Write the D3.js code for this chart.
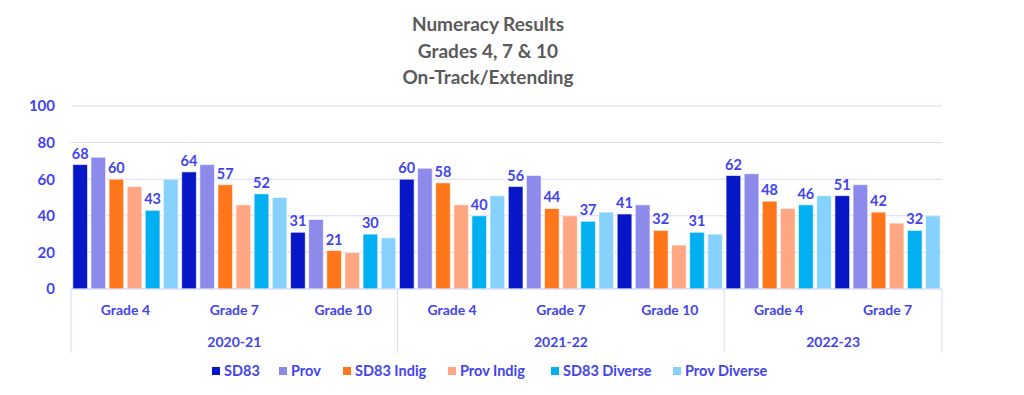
<!DOCTYPE html>
<html>
<head>
<meta charset="utf-8">
<script src="https://cdn.jsdelivr.net/npm/d3@7"></script>
<style>
  body { margin: 0; background: #fff; }
  text { font-family: Lato, "Open Sans", sans-serif; font-weight: bold; }
</style>
</head>
<body>
<div id="chart"></div>
<script>
// Chart size.
var width = 1024;
var height = 395;

// Data.
var years = ["2020-21", "2021-22", "2022-23"];
var grades = [["Grade 4", "Grade 7", "Grade 10"], ["Grade 4", "Grade 7", "Grade 10"], ["Grade 4", "Grade 7"]];
var series = ["SD83", "Prov", "SD83 Indig", "Prov Indig", "SD83 Diverse", "Prov Diverse"];
var sd83        = [68, 64, 31, 60, 56, 41, 62, 51];
var prov        = [72, 68, 38, 66, 62, 46, 63, 57];
var sd83Indig   = [60, 57, 21, 58, 44, 32, 48, 42];
var provIndig   = [56, 46, 20, 46, 40, 24, 44, 36];
var sd83Diverse = [43, 52, 30, 40, 37, 31, 46, 32];
var provDiverse = [60, 50, 28, 51, 42, 30, 51, 40];
var yTicks = [0, 20, 40, 60, 80, 100];
var titleLines = ["Numeracy Results", "Grades 4, 7 & 10", "On-Track/Extending"];

// Colours and which series get value labels.
var colors = ["#0716c6", "#8c8bec", "#ff761b", "#ffa783", "#00b0f0", "#87d2fc"];
var labelled = [true, false, true, false, true, false];
var values = [sd83, prov, sd83Indig, provIndig, sd83Diverse, provDiverse];

var textBlue = "#4343ee";
var gridColor = "#d9d9f7";

// Flat list of categories: one per grade within a year.
var cats = [];
years.forEach(function(y, i) {
  grades[i].forEach(function(g) { cats.push({ year: y, grade: g, key: y + "|" + g }); });
});

var margin = { left: 71, right: 82, top: 106, bottom: 106 };
var plotW = width - margin.left - margin.right;
var plotH = height - margin.top - margin.bottom;

var svg = d3.select("#chart").append("svg")
    .attr("width", width)
    .attr("height", height);

var g = svg.append("g")
    .attr("transform", "translate(" + margin.left + "," + margin.top + ")");

var x0 = d3.scaleBand()
    .domain(cats.map(function(d) { return d.key; }))
    .range([0, plotW])
    .padding(0);

var x1 = d3.scaleBand()
    .domain(d3.range(series.length))
    .range([0, x0.bandwidth()])
    .paddingInner(0.19)
    .paddingOuter(0.1);

var y = d3.scaleLinear()
    .domain([0, 100])
    .range([plotH, 0]);

// Title
svg.append("g").selectAll("text")
    .data(titleLines)
    .join("text")
    .attr("x", 488)
    .attr("y", function(d, i) { return 31 + i * 26.5; })
    .attr("text-anchor", "middle")
    .attr("font-size", 19)
    .attr("fill", "#5a5a5a")
    .text(function(d) { return d; });

// Gridlines
g.append("g").selectAll("line")
    .data(yTicks)
    .join("line")
    .attr("x1", 0)
    .attr("x2", plotW)
    .attr("y1", function(d) { return y(d); })
    .attr("y2", function(d) { return y(d); })
    .attr("stroke", gridColor)
    .attr("stroke-width", 1);

// Y axis labels
var yAxis = g.append("g")
    .call(d3.axisLeft(y).tickValues(yTicks).tickSize(0).tickPadding(16));
yAxis.select(".domain").remove();
yAxis.selectAll("text")
    .attr("font-size", 15)
    .attr("font-family", "Lato, sans-serif")
    .attr("fill", textBlue);

// Bars
var groups = g.append("g").selectAll("g")
    .data(cats)
    .join("g")
    .attr("transform", function(d) { return "translate(" + x0(d.key) + ",0)"; });

groups.selectAll("rect")
    .data(function(d, ci) { return series.map(function(s, si) { return { si: si, v: values[si][ci] }; }); })
    .join("rect")
    .attr("x", function(d) { return x1(d.si); })
    .attr("width", x1.bandwidth())
    .attr("y", function(d) { return y(d.v); })
    .attr("height", function(d) { return plotH - y(d.v); })
    .attr("fill", function(d) { return colors[d.si]; })
    .attr("stroke", "rgba(255,255,255,0.6)")
    .attr("stroke-width", 1);

// Value labels
groups.selectAll("text.val")
    .data(function(d, ci) {
      return series.map(function(s, si) { return { si: si, v: values[si][ci] }; })
          .filter(function(d) { return labelled[d.si]; });
    })
    .join("text")
    .attr("class", "val")
    .attr("x", function(d) { return x1(d.si) + x1.bandwidth() / 2; })
    .attr("y", function(d) { return y(d.v) - 6; })
    .attr("text-anchor", "middle")
    .attr("font-size", 14.5)
    .attr("fill", textBlue)
    .text(function(d) { return d.v; });

// Baseline
g.append("line")
    .attr("x1", 0).attr("x2", plotW)
    .attr("y1", plotH).attr("y2", plotH)
    .attr("stroke", gridColor);

// Category axis: grade labels
g.append("g").selectAll("text")
    .data(cats)
    .join("text")
    .attr("x", function(d) { return x0(d.key) + x0.bandwidth() / 2; })
    .attr("y", plotH + 26)
    .attr("text-anchor", "middle")
    .attr("font-size", 14)
    .attr("fill", textBlue)
    .text(function(d) { return d.grade; });

// Year labels and separators
var yearSpans = years.map(function(yr, i) {
  var ks = cats.filter(function(c) { return c.year === yr; });
  var start = x0(ks[0].key);
  var end = x0(ks[ks.length - 1].key) + x0.bandwidth();
  return { year: yr, start: start, end: end };
});

g.append("g").selectAll("text")
    .data(yearSpans)
    .join("text")
    .attr("x", function(d) { return (d.start + d.end) / 2; })
    .attr("y", plotH + 58)
    .attr("text-anchor", "middle")
    .attr("font-size", 14)
    .attr("fill", textBlue)
    .text(function(d) { return d.year; });

var seps = [0].concat(yearSpans.map(function(d) { return d.end; }));
g.append("g").selectAll("line")
    .data(seps)
    .join("line")
    .attr("x1", function(d) { return d; })
    .attr("x2", function(d) { return d; })
    .attr("y1", plotH)
    .attr("y2", plotH + 64)
    .attr("stroke", gridColor);

// Legend
var legendX = [212, 279, 343, 448, 551, 673];
var legend = svg.append("g").selectAll("g")
    .data(series)
    .join("g")
    .attr("transform", function(d, i) { return "translate(" + legendX[i] + ",371)"; });

legend.append("rect")
    .attr("x", 0)
    .attr("y", -4)
    .attr("width", 8)
    .attr("height", 8)
    .attr("fill", function(d, i) { return colors[i]; });

legend.append("text")
    .attr("x", 12)
    .attr("y", 5)
    .attr("font-size", 14.5)
    .attr("fill", textBlue)
    .text(function(d) { return d; });
</script>
</body>
</html>
